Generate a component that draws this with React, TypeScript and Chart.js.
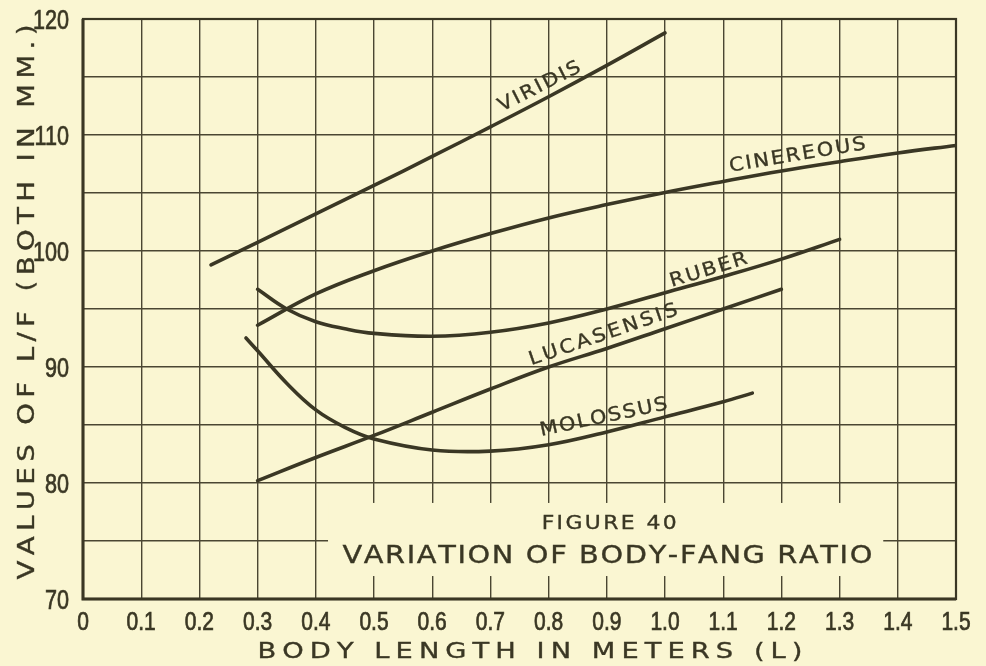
import React, { useEffect, useRef } from 'react';
import { Chart, registerables } from 'chart.js';

Chart.register(...registerables);

// ---------- data ----------
const xTickLabels = ['0', '0.1', '0.2', '0.3', '0.4', '0.5', '0.6', '0.7', '0.8', '0.9', '1.0', '1.1', '1.2', '1.3', '1.4', '1.5'];
const yTickLabels = ['70', '80', '90', '100', '110', '120'];

const seriesNames = ['VIRIDIS', 'CINEREOUS', 'RUBER', 'LUCASENSIS', 'MOLOSSUS'];

const viridisX = [0.22, 0.3, 0.4, 0.5, 0.6, 0.7, 0.8, 0.9, 1.0];
const viridisY = [98.8, 100.75, 103.2, 105.65, 108.15, 110.7, 113.3, 116.0, 118.8];

const cinereousX = [0.3, 0.4, 0.5, 0.6, 0.7, 0.8, 0.9, 1.0, 1.1, 1.2, 1.3, 1.4, 1.5];
const cinereousY = [93.6, 96.3, 98.3, 100.0, 101.5, 102.85, 104.0, 105.05, 106.0, 106.9, 107.7, 108.45, 109.1];

const ruberX = [0.3, 0.35, 0.4, 0.45, 0.5, 0.6, 0.7, 0.8, 0.9, 1.0, 1.1, 1.2, 1.3];
const ruberY = [96.7, 95.0, 93.9, 93.3, 92.9, 92.65, 93.0, 93.8, 95.0, 96.4, 97.8, 99.3, 101.0];

const lucasensisX = [0.3, 0.4, 0.5, 0.6, 0.7, 0.8, 0.9, 1.0, 1.1, 1.2];
const lucasensisY = [80.2, 82.2, 84.1, 86.1, 88.1, 90.0, 91.6, 93.3, 95.0, 96.7];

const molossusX = [0.28, 0.3, 0.35, 0.4, 0.45, 0.5, 0.6, 0.7, 0.8, 0.9, 1.0, 1.1, 1.15];
const molossusY = [92.5, 91.4, 88.6, 86.3, 84.8, 83.8, 82.85, 82.75, 83.3, 84.4, 85.7, 87.0, 87.75];

const seriesX = [viridisX, cinereousX, ruberX, lucasensisX, molossusX];
const seriesY = [viridisY, cinereousY, ruberY, lucasensisY, molossusY];

const figureNumber = 'FIGURE 40';
const figureTitle = 'VARIATION OF BODY-FANG RATIO';
const xAxisTitle = 'BODY LENGTH IN METERS (L)';
const yAxisTitle = 'VALUES OF L/F (BOTH IN MM.)';

// ---------- styles / placement ----------
const INK = '#3a3724';
const GRID = '#4a4632';
const BG = '#faf6d2';
const LETTER = "'DejaVu Sans', Verdana, sans-serif";
const DIGITS = "'Liberation Sans', Arial, sans-serif";

// label placement in data coordinates: [x, y, angleDeg, width(px), fontSize, stretch]
const curveLabelPlacement = [
  [0.783, 114.3, -27, 90, 19, 1.1],
  [1.227, 108.4, -9.5, 138, 19, 1.1],
  [1.074, 98.5, -17, 80, 19, 1.1],
  [0.893, 92.9, -19, 156, 19, 1.1],
  [0.894, 85.8, -12, 130, 19, 1.1],
];

function drawSpaced(
  ctx: CanvasRenderingContext2D,
  text: string,
  cx: number,
  cy: number,
  angleDeg: number,
  fontSize: number,
  width: number,
  stretch = 1,
) {
  ctx.save();
  ctx.font = `${fontSize}px ${LETTER}`;
  ctx.fillStyle = INK;
  ctx.strokeStyle = INK;
  ctx.lineWidth = 0.35;
  ctx.translate(cx, cy);
  ctx.rotate((angleDeg * Math.PI) / 180);
  const chars = Array.from(text);
  const ws = chars.map((c) => ctx.measureText(c).width * stretch);
  const sum = ws.reduce((a, b) => a + b, 0);
  const gap = chars.length > 1 ? (width - sum) / (chars.length - 1) : 0;
  let x = -width / 2;
  ctx.textAlign = 'left';
  ctx.textBaseline = 'alphabetic';
  const capH = fontSize * 0.729;
  chars.forEach((c, i) => {
    ctx.save();
    ctx.translate(x, capH / 2);
    ctx.scale(stretch, 1);
    ctx.fillText(c, 0, 0);
    ctx.strokeText(c, 0, 0);
    ctx.restore();
    x += ws[i] + gap;
  });
  ctx.restore();
}

function drawNarrow(ctx: CanvasRenderingContext2D, text: string, x: number, baseline: number, size: number, align: 'center' | 'right', squeeze: number) {
  ctx.save();
  ctx.font = `${size}px ${DIGITS}`;
  ctx.fillStyle = INK;
  ctx.strokeStyle = INK;
  ctx.lineWidth = 0.7;
  ctx.textBaseline = 'alphabetic';
  ctx.textAlign = align;
  ctx.translate(x, baseline);
  ctx.scale(squeeze, 1);
  ctx.fillText(text, 0, 0);
  ctx.strokeText(text, 0, 0);
  ctx.restore();
}

const decorPlugin = {
  id: 'decor',
  beforeDatasetsDraw(chart: any) {
    const { ctx, chartArea, scales } = chart;
    const xs = scales.x;
    const ys = scales.y;
    ctx.save();
    // blank panel behind the figure title
    const x0 = xs.getPixelForValue(0.421);
    const x1 = xs.getPixelForValue(1.375);
    const y0 = ys.getPixelForValue(78.28);
    const y1 = ys.getPixelForValue(71.98);
    ctx.fillStyle = BG;
    ctx.fillRect(x0, y0, x1 - x0, y1 - y0);
    // frame: heavier on the axis sides
    ctx.strokeStyle = INK;
    ctx.lineWidth = 2.2;
    ctx.strokeRect(chartArea.left, chartArea.top, chartArea.right - chartArea.left, chartArea.bottom - chartArea.top);
    ctx.lineWidth = 3;
    ctx.beginPath();
    ctx.moveTo(chartArea.left, chartArea.top);
    ctx.lineTo(chartArea.left, chartArea.bottom);
    ctx.lineTo(chartArea.right, chartArea.bottom);
    ctx.stroke();
    ctx.restore();
  },
  afterDraw(chart: any) {
    const { ctx, scales, chartArea } = chart;
    const xs = scales.x;
    const ys = scales.y;
    // tick labels, placed at the library's tick positions
    xs.ticks.forEach((_t: any, i: number) => {
      const label = xTickLabels[i];
      if (label === undefined) return;
      drawNarrow(ctx, label, xs.getPixelForTick(i), chartArea.bottom + 31, 25, 'center', 0.84);
    });
    ys.ticks.forEach((_t: any, i: number) => {
      if (i % 2 !== 0) return;
      const label = yTickLabels[i / 2];
      if (label === undefined) return;
      drawNarrow(ctx, label, chartArea.left - 14, ys.getPixelForTick(i) + 10, 27, 'right', 0.8);
    });
    seriesNames.forEach((name, i) => {
      const [vx, vy, ang, w, fs, st] = curveLabelPlacement[i];
      drawSpaced(ctx, name, xs.getPixelForValue(vx), ys.getPixelForValue(vy), ang, fs, w, st);
    });
    drawSpaced(ctx, figureNumber, xs.getPixelForValue(0.904), ys.getPixelForValue(76.6), 0, 19, 135, 1.15);
    drawSpaced(ctx, figureTitle, xs.getPixelForValue(0.901), ys.getPixelForValue(73.9), 0, 24, 530, 1.2);
    drawSpaced(ctx, xAxisTitle, 530, 650, 0, 21, 545, 1.3);
    drawSpaced(ctx, yAxisTitle, 26, 302, -90, 23, 555, 1.2);
  },
};

export default function App() {
  const canvasRef = useRef<HTMLCanvasElement | null>(null);

  useEffect(() => {
    document.body.style.margin = '0';
    document.body.style.background = BG;
    const canvas = canvasRef.current;
    if (!canvas) return;
    const datasets = seriesNames.map((name, i) => ({
      label: name,
      data: seriesX[i].map((x, j) => ({ x, y: seriesY[i][j] })),
      borderColor: INK,
      borderWidth: 3.6,
      pointRadius: 0,
      fill: false,
      tension: 0.4,
      borderCapStyle: 'round' as const,
    }));
    const chart = new Chart(canvas, {
      type: 'line',
      data: { datasets },
      options: {
        animation: false,
        responsive: true,
        maintainAspectRatio: false,
        layout: { padding: { left: 0, right: 30, top: 19, bottom: 0 } },
        plugins: { legend: { display: false }, tooltip: { enabled: false }, title: { display: false } },
        scales: {
          x: {
            type: 'linear',
            min: 0,
            max: 1.5,
            ticks: { stepSize: 0.1, autoSkip: false, maxRotation: 0, display: false },
            grid: { color: GRID, lineWidth: 1.4, drawTicks: false },
            border: { display: false },
            afterFit: (s: any) => {
              s.height = 67;
              s.paddingLeft = 0;
              s.paddingRight = 0;
            },
          },
          y: {
            type: 'linear',
            min: 70,
            max: 120,
            ticks: { stepSize: 5, autoSkip: false, display: false },
            grid: { color: GRID, lineWidth: 1.4, drawTicks: false },
            border: { display: false },
            afterFit: (s: any) => {
              s.width = 83;
              s.paddingTop = 0;
              s.paddingBottom = 0;
            },
          },
        },
      },
      plugins: [decorPlugin],
    });
    return () => chart.destroy();
  }, []);

  return (
    <div style={{ position: 'fixed', left: 0, top: 0, width: 986, height: 666, background: BG }}>
      <canvas ref={canvasRef} />
    </div>
  );
}
